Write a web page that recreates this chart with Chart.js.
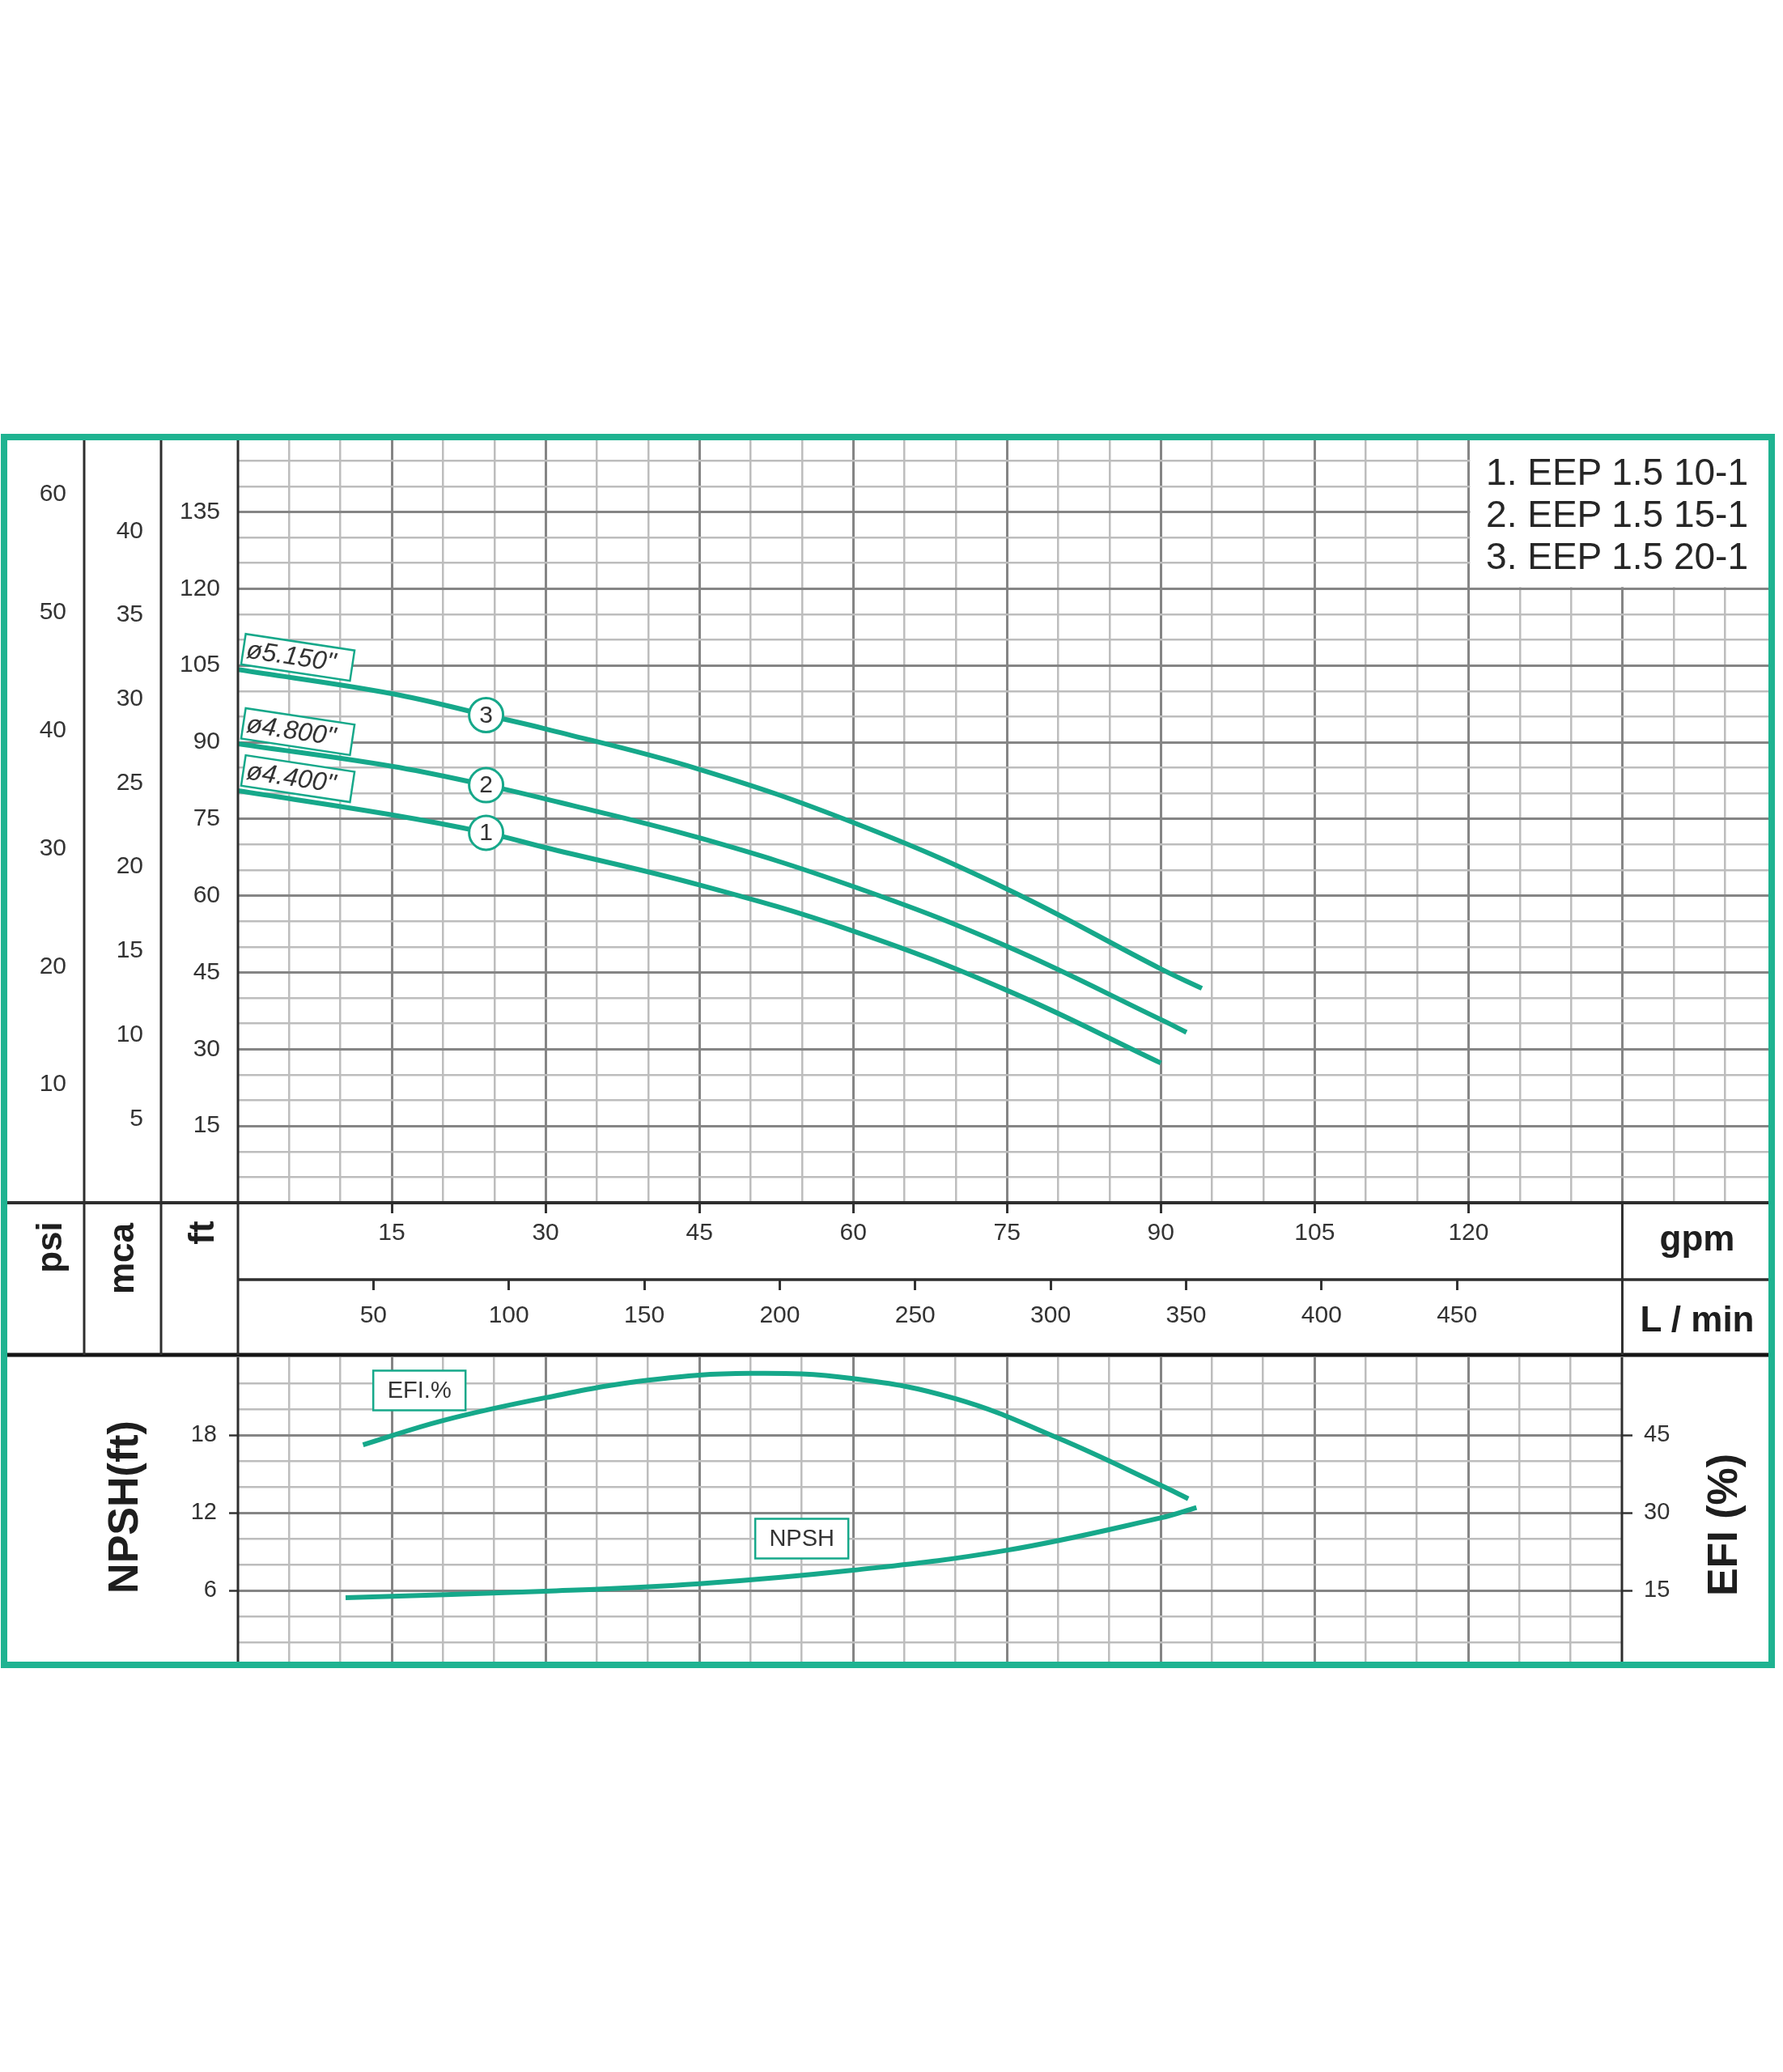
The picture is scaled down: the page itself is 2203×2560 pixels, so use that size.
<!DOCTYPE html>
<html>
<head>
<meta charset="utf-8">
<title>EEP 1.5 curves</title>
<script src="https://cdn.jsdelivr.net/npm/chart.js@4.4.1/dist/chart.umd.min.js"></script>
<style>
  html, body { margin: 0; padding: 0; background: #fff; }
  body { position: relative; width: 2203px; height: 2560px; overflow: hidden;
         font-family: 'Liberation Sans', Arial, sans-serif; color: #222; }
  canvas { position: absolute; }
  #headChart { left: 9px; top: 544px; }
  #npshChart { left: 9px; top: 1677px; }
  #frame { position: absolute; left: 1px; top: 536px; width: 2192px; height: 1525px;
           box-sizing: border-box; border: 8px solid #1fb391; pointer-events: none; }
  .unit { position: absolute; font-weight: bold; white-space: nowrap; color: #1e1e1e;
          transform: translate(-50%, -50%); }
  .up { transform: translate(-50%, -50%) rotate(-90deg); }
  #legend { position: absolute; left: 1760px; width: 400px; top: 557px; text-align: right;
            font-size: 46px; line-height: 52px; color: #262626; }
</style>
</head>
<body>
<canvas id="headChart" width="2176" height="1133"></canvas>
<canvas id="npshChart" width="2176" height="384"></canvas>
<div id="frame"></div>
<div id="legend"></div>
<div class="unit up" style="left:61px;top:1541px;font-size:44px">psi</div>
<div class="unit up" style="left:150px;top:1555px;font-size:44px">mca</div>
<div class="unit up" style="left:249px;top:1523px;font-size:44px">ft</div>
<div class="unit" style="left:2097px;top:1530px;font-size:44px">gpm</div>
<div class="unit" style="left:2097px;top:1630px;font-size:44px">L / min</div>
<div class="unit up" style="left:152px;top:1862px;font-size:52px">NPSH(ft)</div>
<div class="unit up" style="left:2128px;top:1884px;font-size:52px">EFI (%)</div>
<script>
// head curves (gpm -> ft)
const head1Gpm = [0, 15, 24.2, 30, 45, 60, 75, 90];
const head1Ft  = [80.5, 75.8, 72.3, 69.4, 62.1, 53.1, 41.5, 27.3];
const head2Gpm = [0, 15, 24.2, 30, 45, 60, 75, 90, 92.5];
const head2Ft  = [89.7, 85.3, 81.6, 78.9, 71.3, 61.8, 50.1, 35.8, 33.3];
const head3Gpm = [0, 15, 24.2, 30, 45, 60, 75, 90, 94];
const head3Ft  = [104.2, 99.5, 95.3, 92.6, 84.7, 74.3, 61.3, 45.7, 41.9];
const impellers = ['ø4.400"', 'ø4.800"', 'ø5.150"'];
const models = ['1. EEP 1.5 10-1', '2. EEP 1.5 15-1', '3. EEP 1.5 20-1'];
const markGpm = 24.2;

// efficiency and NPSH
const efiGpm  = [12.2, 20, 30, 40, 50, 60, 70, 80, 90, 92.7];
const efiPct  = [43.1, 47.8, 52.2, 55.6, 56.9, 55.9, 52.0, 44.4, 35.3, 32.7];
const npshGpm = [10.5, 30, 45, 60, 75, 90, 93.5];
const npshFt  = [5.44, 5.94, 6.52, 7.56, 9.1, 11.6, 12.4];

// tick labels
const psiTicks  = [10, 20, 30, 40, 50, 60];
const mcaTicks  = [5, 10, 15, 20, 25, 30, 35, 40];
const ftTicks   = [15, 30, 45, 60, 75, 90, 105, 120, 135];
const gpmTicks  = [15, 30, 45, 60, 75, 90, 105, 120];
const lpmTicks  = [50, 100, 150, 200, 250, 300, 350, 400, 450];
const npshTicks = [6, 12, 18];
const efiTicks  = [15, 30, 45];

const FT_PER_PSI = 2.3067, FT_PER_M = 3.2808, LPM_PER_GPM = 3.7854;
const headMax = 149, flowMax = 149.25, lowFlowMax = 135;

const teal = '#16a88a';
const font = "'Liberation Sans', Arial, sans-serif";
const majorGrid = '#858585', minorGrid = '#bdbdbd', ink = '#2e2e2e';

Chart.defaults.font.family = font;
Chart.defaults.color = '#333';

document.getElementById('legend').innerHTML = models.join('<br>');

function every(step, max) {
  const t = [];
  for (let v = 0; v <= max + 1e-6; v += step) t.push({ value: Math.round(v * 1000) / 1000 });
  return t;
}
function fixed(list) { return list.map(v => ({ value: v })); }
function pts(xs, ys) { return xs.map((x, i) => ({ x: x, y: ys[i] })); }
function keepW(w) { return s => { s.width = w; s.paddingTop = 0; s.paddingBottom = 0; }; }
function keepH(h) { return s => { s.height = h; s.paddingLeft = 0; s.paddingRight = 0; }; }
function gridColor(major, maxV) {
  return c => {
    const v = c.tick ? c.tick.value : 0;
    if (v <= 0 || v >= maxV) return 'rgba(0,0,0,0)';
    return v % major === 0 ? majorGrid : minorGrid;
  };
}
function gridWidth(major) {
  return c => (c.tick && c.tick.value % major === 0 ? 3 : 2.5);
}
function line(ctx, x1, y1, x2, y2, w, col) {
  ctx.beginPath(); ctx.lineWidth = w; ctx.strokeStyle = col || ink;
  ctx.moveTo(x1, y1); ctx.lineTo(x2, y2); ctx.stroke();
}
function tag(ctx, x, y, w, h, text, italic, angle) {
  ctx.save();
  ctx.translate(x, y);
  ctx.rotate(angle || 0);
  ctx.fillStyle = '#fff'; ctx.strokeStyle = teal; ctx.lineWidth = 2.5;
  ctx.fillRect(-w / 2, -h / 2, w, h); ctx.strokeRect(-w / 2, -h / 2, w, h);
  ctx.fillStyle = '#333';
  ctx.font = (italic ? 'italic 32px ' : '29px ') + font;
  ctx.textBaseline = 'middle';
  ctx.textAlign = italic ? 'left' : 'center';
  ctx.fillText(text, italic ? -w / 2 + 4 : 0, 1);
  ctx.restore();
}

const headSets = [[head1Gpm, head1Ft], [head2Gpm, head2Ft], [head3Gpm, head3Ft]];

const headDeco = {
  id: 'headDeco',
  beforeDatasetsDraw(chart) {
    const { ctx, chartArea, scales } = chart;
    const x0 = scales.x.getPixelForValue(gpmTicks[gpmTicks.length - 1]);
    const y0 = scales.y.getPixelForValue(120);
    ctx.save();
    ctx.fillStyle = '#fff';
    ctx.fillRect(x0 + 2, chartArea.top, chartArea.right - x0 - 2, y0 - 2 - chartArea.top);
    ctx.restore();
  },
  afterDatasetsDraw(chart) {
    const ctx = chart.ctx;
    chart.data.datasets.forEach((ds, i) => {
      const data = chart.getDatasetMeta(i).data;
      const k = headSets[i][0].indexOf(markGpm);
      ctx.save();
      ctx.font = '30px ' + font; ctx.fillStyle = '#333';
      ctx.textAlign = 'center'; ctx.textBaseline = 'middle';
      ctx.fillText(String(i + 1), data[k].x, data[k].y + 1);
      ctx.restore();
      tag(ctx, data[0].x + 74, data[0].y - 15, 136, 38, impellers[i], true, 0.15);
    });
  },
  afterDraw(chart) {
    const { ctx, chartArea, scales, width } = chart;
    ctx.save();
    line(ctx, 0, chartArea.bottom, width, chartArea.bottom, 4);
    line(ctx, chartArea.left, scales.xl.top, width, scales.xl.top, 3.5);
    line(ctx, 0, scales.xl.bottom, width, scales.xl.bottom, 5, '#151515');
    [scales.psi.right, scales.mca.right, chartArea.left].forEach(x => line(ctx, x, 0, x, scales.xl.bottom, 3));
    const xe = scales.x.getPixelForValue(lowFlowMax);
    line(ctx, xe, chartArea.bottom, xe, scales.xl.bottom, 3);
    ctx.restore();
  }
};

new Chart(document.getElementById('headChart'), {
  type: 'line',
  data: {
    datasets: headSets.map((s, i) => ({
      label: impellers[i],
      data: pts(s[0], s[1]),
      borderColor: teal,
      borderWidth: 6,
      tension: 0.4,
      pointRadius: c => (s[0][c.dataIndex] === markGpm ? 21 : 0),
      pointBackgroundColor: '#fff',
      pointBorderColor: teal,
      pointBorderWidth: 3
    }))
  },
  options: {
    responsive: false,
    animation: false,
    devicePixelRatio: 1,
    layout: { padding: { left: 0, right: 0, top: 0, bottom: 3 } },
    plugins: { legend: { display: false }, tooltip: { enabled: false } },
    scales: {
      x: {
        type: 'linear', position: 'bottom', weight: 0, min: 0, max: flowMax,
        afterBuildTicks: s => { s.ticks = every(5, flowMax); },
        afterFit: keepH(95),
        border: { display: false },
        grid: {
          color: gridColor(15, 1000), lineWidth: gridWidth(15),
          tickLength: 13, tickWidth: 3,
          tickColor: c => (c.tick && gpmTicks.includes(c.tick.value) ? '#333' : 'rgba(0,0,0,0)')
        },
        ticks: {
          autoSkip: false, maxRotation: 0, padding: 7, font: { size: 30 },
          callback: v => (gpmTicks.includes(v) ? String(v) : '')
        }
      },
      xl: {
        type: 'linear', position: 'bottom', weight: 1, min: 0, max: flowMax * LPM_PER_GPM,
        afterBuildTicks: s => { s.ticks = fixed(lpmTicks); },
        afterFit: keepH(93),
        border: { display: false },
        grid: { drawOnChartArea: false, tickLength: 13, tickWidth: 3, tickColor: '#333' },
        ticks: { autoSkip: false, maxRotation: 0, padding: 14, font: { size: 30 } }
      },
      y: {
        type: 'linear', position: 'left', weight: 0, min: 0, max: headMax,
        afterBuildTicks: s => { s.ticks = every(5, headMax); },
        afterFit: keepW(95),
        border: { display: false },
        grid: { drawTicks: false, color: gridColor(15, 1000), lineWidth: gridWidth(15) },
        ticks: { autoSkip: false, padding: 22, font: { size: 30 },
                 callback: v => (ftTicks.includes(v) ? String(v) : '') }
      },
      mca: {
        type: 'linear', position: 'left', weight: 1, min: 0, max: headMax / FT_PER_M,
        afterBuildTicks: s => { s.ticks = fixed(mcaTicks); },
        afterFit: keepW(95),
        border: { display: false },
        grid: { display: false, drawTicks: false },
        ticks: { autoSkip: false, padding: 22, font: { size: 30 } }
      },
      psi: {
        type: 'linear', position: 'left', weight: 2, min: 0, max: headMax / FT_PER_PSI,
        afterBuildTicks: s => { s.ticks = fixed(psiTicks); },
        afterFit: keepW(95),
        border: { display: false },
        grid: { display: false, drawTicks: false },
        ticks: { autoSkip: false, padding: 22, font: { size: 30 } }
      }
    }
  },
  plugins: [headDeco]
});

const lowDeco = {
  id: 'lowDeco',
  afterDatasetsDraw(chart) {
    const { ctx, scales } = chart;
    tag(ctx, scales.x.getPixelForValue(17.7), scales.y2.getPixelForValue(53.6), 114, 49, 'EFI.%', false);
    tag(ctx, scales.x.getPixelForValue(55), scales.y.getPixelForValue(10), 115, 49, 'NPSH', false);
  },
  afterDraw(chart) {
    const { ctx, chartArea } = chart;
    ctx.save();
    line(ctx, chartArea.left, 0, chartArea.left, chartArea.bottom, 3);
    line(ctx, chartArea.right, 0, chartArea.right, chartArea.bottom, 3);
    ctx.restore();
  }
};

new Chart(document.getElementById('npshChart'), {
  type: 'line',
  data: {
    datasets: [
      { label: 'EFI.%', data: pts(efiGpm, efiPct), yAxisID: 'y2' },
      { label: 'NPSH', data: pts(npshGpm, npshFt), yAxisID: 'y' }
    ].map(d => Object.assign(d, {
      borderColor: teal, borderWidth: 6, pointRadius: 0, tension: 0.4
    }))
  },
  options: {
    responsive: false,
    animation: false,
    devicePixelRatio: 1,
    layout: { padding: 0 },
    plugins: { legend: { display: false }, tooltip: { enabled: false } },
    scales: {
      x: {
        type: 'linear', position: 'bottom', min: 0, max: lowFlowMax,
        afterBuildTicks: s => { s.ticks = every(5, lowFlowMax); },
        afterFit: keepH(0),
        border: { display: false },
        grid: { drawTicks: false, color: gridColor(15, lowFlowMax), lineWidth: gridWidth(15) },
        ticks: { display: false, autoSkip: false }
      },
      y: {
        type: 'linear', position: 'left', min: 0, max: 24,
        afterBuildTicks: s => { s.ticks = every(2, 24); },
        afterFit: keepW(285),
        border: { display: false },
        grid: {
          color: gridColor(6, 24), lineWidth: gridWidth(6),
          tickLength: 11, tickWidth: 2.5,
          tickColor: c => (c.tick && npshTicks.includes(c.tick.value) ? '#333' : 'rgba(0,0,0,0)')
        },
        ticks: { autoSkip: false, padding: 15, font: { size: 29 },
                 callback: v => (npshTicks.includes(v) ? String(v) : '') }
      },
      y2: {
        type: 'linear', position: 'right', min: 0, max: 60,
        afterBuildTicks: s => { s.ticks = fixed(efiTicks); },
        afterFit: keepW(181),
        border: { display: false },
        grid: { drawOnChartArea: false, tickLength: 13, tickWidth: 2.5, tickColor: '#333' },
        ticks: { autoSkip: false, padding: 14, font: { size: 29 } }
      }
    }
  },
  plugins: [lowDeco]
});
</script>
</body>
</html>
